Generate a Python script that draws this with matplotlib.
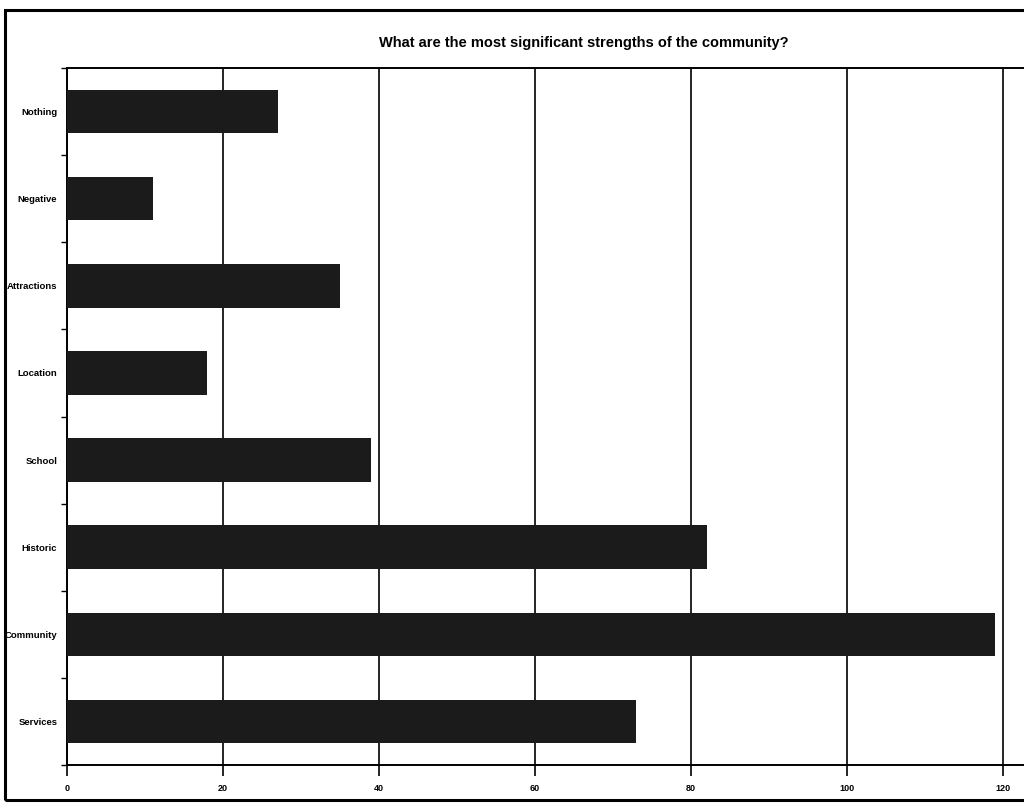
import numpy as np
import matplotlib.pyplot as plt
from matplotlib.patches import Rectangle

categories = ["Nothing", "Negative", "Attractions", "Location", "School",
              "Historic", "Community", "Services"]
counts = [27, 11, 35, 18, 39, 82, 119, 73]
xticks = [0, 20, 40, 60, 80, 100, 120]

plt.rcParams['font.family'] = ['Liberation Sans', 'DejaVu Sans']

fig = plt.figure(figsize=(10.24, 8.05), dpi=100)
ax = fig.add_axes([0.0654, 0.0497, 0.94, 0.8658])

y = np.arange(len(categories))
ax.barh(y, counts, height=0.5, color="#1b1b1b", zorder=3)
ax.set_ylim(len(categories) - 0.5, -0.5)
ax.set_xlim(0, 123.4)

ax.set_yticks(y)
ax.set_yticklabels(categories, fontsize=6.8, fontweight="bold")
ax.set_yticks(np.arange(-0.5, len(categories), 1), minor=True)
ax.tick_params(axis="y", which="major", length=0, pad=7)
ax.tick_params(axis="y", which="minor", length=4, width=1, direction="out")

ax.set_xticks(xticks)
ax.set_xticklabels([str(t) for t in xticks], fontsize=6.5, fontweight="bold")
ax.tick_params(axis="x", length=8, width=1.2, direction="out", pad=6)

ax.grid(axis="x", color="black", linewidth=1.2, zorder=1)
ax.spines["right"].set_visible(False)
for s in ["left", "top", "bottom"]:
    ax.spines[s].set_linewidth(1.4)

fig.text(0.57, 0.947, "What are the most significant strengths of the community?",
         ha="center", va="center", fontsize=10.5, fontweight="bold")

fig.patches.append(Rectangle((0.005, 0.006), 1.2, 0.982, transform=fig.transFigure,
                             fill=False, edgecolor="black", linewidth=2.2))

fig.savefig("out.png", dpi=100)
